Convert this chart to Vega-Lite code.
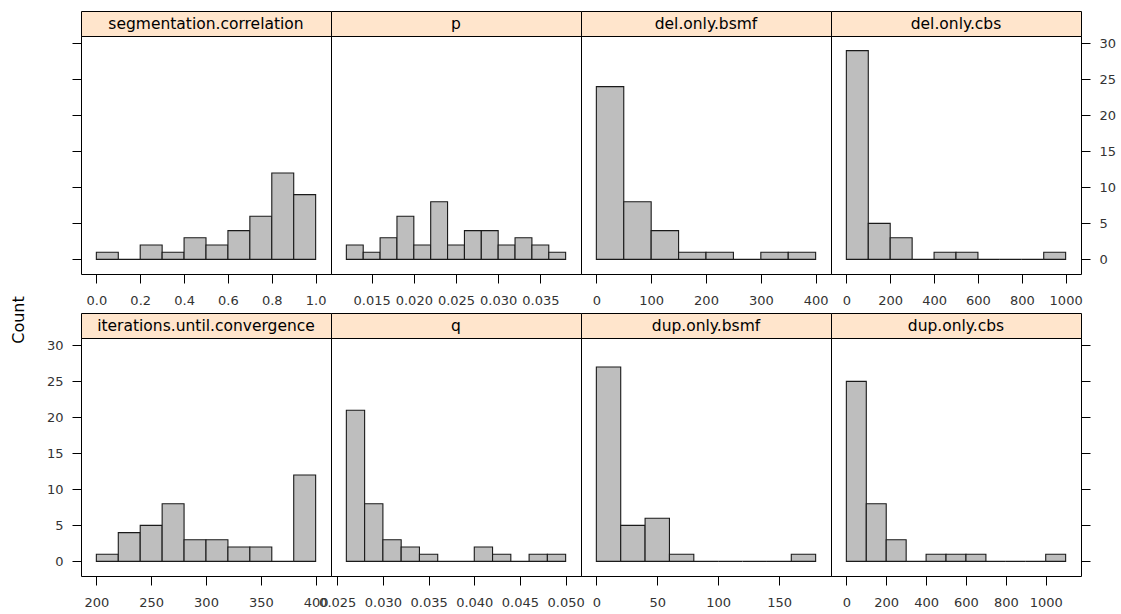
{
  "$schema": "https://vega.github.io/schema/vega-lite/v6.json",
  "padding": {"left": 10, "top": 10, "right": 5, "bottom": 5},
  "background": "white",
  "title": {"text": "Count", "orient": "left", "anchor": "middle", "font": "DejaVu Sans", "fontSize": 16, "fontWeight": "normal", "color": "#000", "offset": 19, "dx": -10},
  "datasets": {
    "panels": [
      {"v": "segmentation.correlation"}, {"v": "p"}, {"v": "del.only.bsmf"}, {"v": "del.only.cbs"},
      {"v": "iterations.until.convergence"}, {"v": "q"}, {"v": "dup.only.bsmf"}, {"v": "dup.only.cbs"}
    ],
    "bins": [
      {"v": "segmentation.correlation", "start": 0.0, "end": 0.1, "count": 1},
      {"v": "segmentation.correlation", "start": 0.1, "end": 0.2, "count": 0},
      {"v": "segmentation.correlation", "start": 0.2, "end": 0.3, "count": 2},
      {"v": "segmentation.correlation", "start": 0.3, "end": 0.4, "count": 1},
      {"v": "segmentation.correlation", "start": 0.4, "end": 0.5, "count": 3},
      {"v": "segmentation.correlation", "start": 0.5, "end": 0.6, "count": 2},
      {"v": "segmentation.correlation", "start": 0.6, "end": 0.7, "count": 4},
      {"v": "segmentation.correlation", "start": 0.7, "end": 0.8, "count": 6},
      {"v": "segmentation.correlation", "start": 0.8, "end": 0.9, "count": 12},
      {"v": "segmentation.correlation", "start": 0.9, "end": 1.0, "count": 9},
      {"v": "p", "start": 0.012, "end": 0.014, "count": 2},
      {"v": "p", "start": 0.014, "end": 0.016, "count": 1},
      {"v": "p", "start": 0.016, "end": 0.018, "count": 3},
      {"v": "p", "start": 0.018, "end": 0.020, "count": 6},
      {"v": "p", "start": 0.020, "end": 0.022, "count": 2},
      {"v": "p", "start": 0.022, "end": 0.024, "count": 8},
      {"v": "p", "start": 0.024, "end": 0.026, "count": 2},
      {"v": "p", "start": 0.026, "end": 0.028, "count": 4},
      {"v": "p", "start": 0.028, "end": 0.030, "count": 4},
      {"v": "p", "start": 0.030, "end": 0.032, "count": 2},
      {"v": "p", "start": 0.032, "end": 0.034, "count": 3},
      {"v": "p", "start": 0.034, "end": 0.036, "count": 2},
      {"v": "p", "start": 0.036, "end": 0.038, "count": 1},
      {"v": "del.only.bsmf", "start": 0, "end": 50, "count": 24},
      {"v": "del.only.bsmf", "start": 50, "end": 100, "count": 8},
      {"v": "del.only.bsmf", "start": 100, "end": 150, "count": 4},
      {"v": "del.only.bsmf", "start": 150, "end": 200, "count": 1},
      {"v": "del.only.bsmf", "start": 200, "end": 250, "count": 1},
      {"v": "del.only.bsmf", "start": 250, "end": 300, "count": 0},
      {"v": "del.only.bsmf", "start": 300, "end": 350, "count": 1},
      {"v": "del.only.bsmf", "start": 350, "end": 400, "count": 1},
      {"v": "del.only.cbs", "start": 0, "end": 100, "count": 29},
      {"v": "del.only.cbs", "start": 100, "end": 200, "count": 5},
      {"v": "del.only.cbs", "start": 200, "end": 300, "count": 3},
      {"v": "del.only.cbs", "start": 300, "end": 400, "count": 0},
      {"v": "del.only.cbs", "start": 400, "end": 500, "count": 1},
      {"v": "del.only.cbs", "start": 500, "end": 600, "count": 1},
      {"v": "del.only.cbs", "start": 600, "end": 700, "count": 0},
      {"v": "del.only.cbs", "start": 700, "end": 800, "count": 0},
      {"v": "del.only.cbs", "start": 800, "end": 900, "count": 0},
      {"v": "del.only.cbs", "start": 900, "end": 1000, "count": 1},
      {"v": "iterations.until.convergence", "start": 200, "end": 220, "count": 1},
      {"v": "iterations.until.convergence", "start": 220, "end": 240, "count": 4},
      {"v": "iterations.until.convergence", "start": 240, "end": 260, "count": 5},
      {"v": "iterations.until.convergence", "start": 260, "end": 280, "count": 8},
      {"v": "iterations.until.convergence", "start": 280, "end": 300, "count": 3},
      {"v": "iterations.until.convergence", "start": 300, "end": 320, "count": 3},
      {"v": "iterations.until.convergence", "start": 320, "end": 340, "count": 2},
      {"v": "iterations.until.convergence", "start": 340, "end": 360, "count": 2},
      {"v": "iterations.until.convergence", "start": 360, "end": 380, "count": 0},
      {"v": "iterations.until.convergence", "start": 380, "end": 400, "count": 12},
      {"v": "q", "start": 0.026, "end": 0.028, "count": 21},
      {"v": "q", "start": 0.028, "end": 0.030, "count": 8},
      {"v": "q", "start": 0.030, "end": 0.032, "count": 3},
      {"v": "q", "start": 0.032, "end": 0.034, "count": 2},
      {"v": "q", "start": 0.034, "end": 0.036, "count": 1},
      {"v": "q", "start": 0.036, "end": 0.038, "count": 0},
      {"v": "q", "start": 0.038, "end": 0.040, "count": 0},
      {"v": "q", "start": 0.040, "end": 0.042, "count": 2},
      {"v": "q", "start": 0.042, "end": 0.044, "count": 1},
      {"v": "q", "start": 0.044, "end": 0.046, "count": 0},
      {"v": "q", "start": 0.046, "end": 0.048, "count": 1},
      {"v": "q", "start": 0.048, "end": 0.050, "count": 1},
      {"v": "dup.only.bsmf", "start": 0, "end": 20, "count": 27},
      {"v": "dup.only.bsmf", "start": 20, "end": 40, "count": 5},
      {"v": "dup.only.bsmf", "start": 40, "end": 60, "count": 6},
      {"v": "dup.only.bsmf", "start": 60, "end": 80, "count": 1},
      {"v": "dup.only.bsmf", "start": 80, "end": 100, "count": 0},
      {"v": "dup.only.bsmf", "start": 100, "end": 120, "count": 0},
      {"v": "dup.only.bsmf", "start": 120, "end": 140, "count": 0},
      {"v": "dup.only.bsmf", "start": 140, "end": 160, "count": 0},
      {"v": "dup.only.bsmf", "start": 160, "end": 180, "count": 1},
      {"v": "dup.only.cbs", "start": 0, "end": 100, "count": 25},
      {"v": "dup.only.cbs", "start": 100, "end": 200, "count": 8},
      {"v": "dup.only.cbs", "start": 200, "end": 300, "count": 3},
      {"v": "dup.only.cbs", "start": 300, "end": 400, "count": 0},
      {"v": "dup.only.cbs", "start": 400, "end": 500, "count": 1},
      {"v": "dup.only.cbs", "start": 500, "end": 600, "count": 1},
      {"v": "dup.only.cbs", "start": 600, "end": 700, "count": 1},
      {"v": "dup.only.cbs", "start": 700, "end": 800, "count": 0},
      {"v": "dup.only.cbs", "start": 800, "end": 900, "count": 0},
      {"v": "dup.only.cbs", "start": 900, "end": 1000, "count": 0},
      {"v": "dup.only.cbs", "start": 1000, "end": 1100, "count": 1}
    ]
  },
  "spacing": 4,
  "resolve": {"scale": {"x": "independent", "y": "independent"}},
  "vconcat": [
    {
      "columns": 4, "spacing": 0, "bounds": "flush",
      "resolve": {"scale": {"x": "independent", "y": "independent"}},
      "concat": [
        {"width": 250, "height": 25, "data": {"name": "panels"}, "transform": [{"filter": "datum.v == 'segmentation.correlation'"}],
         "mark": {"type": "text", "font": "DejaVu Sans", "fontSize": 15.5, "fill": "#000", "baseline": "middle"},
         "encoding": {"text": {"field": "v"}}, "view": {"fill": "#ffe5cc", "stroke": "#000"}},
        {"width": 250, "height": 25, "data": {"name": "panels"}, "transform": [{"filter": "datum.v == 'p'"}],
         "mark": {"type": "text", "font": "DejaVu Sans", "fontSize": 15.5, "fill": "#000", "baseline": "middle"},
         "encoding": {"text": {"field": "v"}}, "view": {"fill": "#ffe5cc", "stroke": "#000"}},
        {"width": 250, "height": 25, "data": {"name": "panels"}, "transform": [{"filter": "datum.v == 'del.only.bsmf'"}],
         "mark": {"type": "text", "font": "DejaVu Sans", "fontSize": 15.5, "fill": "#000", "baseline": "middle"},
         "encoding": {"text": {"field": "v"}}, "view": {"fill": "#ffe5cc", "stroke": "#000"}},
        {"width": 250, "height": 25, "data": {"name": "panels"}, "transform": [{"filter": "datum.v == 'del.only.cbs'"}],
         "mark": {"type": "text", "font": "DejaVu Sans", "fontSize": 15.5, "fill": "#000", "baseline": "middle"},
         "encoding": {"text": {"field": "v"}}, "view": {"fill": "#ffe5cc", "stroke": "#000"}},
        {"width": 250, "height": 238, "data": {"name": "bins"}, "transform": [{"filter": "datum.v == 'segmentation.correlation'"}],
         "mark": {"type": "rect", "fill": "#bebebe", "stroke": "#1a1a1a", "strokeWidth": 1.1},
         "encoding": {
           "x": {"field": "start", "type": "quantitative", "scale": {"domain": [-0.07, 1.07], "nice": false, "zero": false}, "axis": {"values": [0, 0.2, 0.4, 0.6, 0.8, 1.0], "format": ".1f", "title": null}},
           "x2": {"field": "end"},
           "y": {"field": "count", "type": "quantitative", "scale": {"domain": [-2.03, 31.03], "nice": false, "zero": false}, "axis": {"orient": "left", "values": [0, 5, 10, 15, 20, 25, 30], "labels": false, "title": null}},
           "y2": {"datum": 0}
         }, "view": {"stroke": "#000"}},
        {"width": 250, "height": 238, "data": {"name": "bins"}, "transform": [{"filter": "datum.v == 'p'"}],
         "mark": {"type": "rect", "fill": "#bebebe", "stroke": "#1a1a1a", "strokeWidth": 1.1},
         "encoding": {
           "x": {"field": "start", "type": "quantitative", "scale": {"domain": [0.01018, 0.03982], "nice": false, "zero": false}, "axis": {"values": [0.015, 0.020, 0.025, 0.030, 0.035], "format": ".3f", "title": null}},
           "x2": {"field": "end"},
           "y": {"field": "count", "type": "quantitative", "scale": {"domain": [-2.03, 31.03], "nice": false, "zero": false}, "axis": null},
           "y2": {"datum": 0}
         }, "view": {"stroke": "#000"}},
        {"width": 250, "height": 238, "data": {"name": "bins"}, "transform": [{"filter": "datum.v == 'del.only.bsmf'"}],
         "mark": {"type": "rect", "fill": "#bebebe", "stroke": "#1a1a1a", "strokeWidth": 1.1},
         "encoding": {
           "x": {"field": "start", "type": "quantitative", "scale": {"domain": [-28, 428], "nice": false, "zero": false}, "axis": {"values": [0, 100, 200, 300, 400], "format": "d", "title": null}},
           "x2": {"field": "end"},
           "y": {"field": "count", "type": "quantitative", "scale": {"domain": [-2.03, 31.03], "nice": false, "zero": false}, "axis": null},
           "y2": {"datum": 0}
         }, "view": {"stroke": "#000"}},
        {"width": 250, "height": 238, "data": {"name": "bins"}, "transform": [{"filter": "datum.v == 'del.only.cbs'"}],
         "mark": {"type": "rect", "fill": "#bebebe", "stroke": "#1a1a1a", "strokeWidth": 1.1},
         "encoding": {
           "x": {"field": "start", "type": "quantitative", "scale": {"domain": [-70, 1070], "nice": false, "zero": false}, "axis": {"values": [0, 200, 400, 600, 800, 1000], "format": "d", "title": null}},
           "x2": {"field": "end"},
           "y": {"field": "count", "type": "quantitative", "scale": {"domain": [-2.03, 31.03], "nice": false, "zero": false}, "axis": {"orient": "right", "values": [0, 5, 10, 15, 20, 25, 30], "title": null}},
           "y2": {"datum": 0}
         }, "view": {"stroke": "#000"}}
      ]
    },
    {
      "columns": 4, "spacing": 0, "bounds": "flush",
      "resolve": {"scale": {"x": "independent", "y": "independent"}},
      "concat": [
        {"width": 250, "height": 25, "data": {"name": "panels"}, "transform": [{"filter": "datum.v == 'iterations.until.convergence'"}],
         "mark": {"type": "text", "font": "DejaVu Sans", "fontSize": 15.5, "fill": "#000", "baseline": "middle"},
         "encoding": {"text": {"field": "v"}}, "view": {"fill": "#ffe5cc", "stroke": "#000"}},
        {"width": 250, "height": 25, "data": {"name": "panels"}, "transform": [{"filter": "datum.v == 'q'"}],
         "mark": {"type": "text", "font": "DejaVu Sans", "fontSize": 15.5, "fill": "#000", "baseline": "middle"},
         "encoding": {"text": {"field": "v"}}, "view": {"fill": "#ffe5cc", "stroke": "#000"}},
        {"width": 250, "height": 25, "data": {"name": "panels"}, "transform": [{"filter": "datum.v == 'dup.only.bsmf'"}],
         "mark": {"type": "text", "font": "DejaVu Sans", "fontSize": 15.5, "fill": "#000", "baseline": "middle"},
         "encoding": {"text": {"field": "v"}}, "view": {"fill": "#ffe5cc", "stroke": "#000"}},
        {"width": 250, "height": 25, "data": {"name": "panels"}, "transform": [{"filter": "datum.v == 'dup.only.cbs'"}],
         "mark": {"type": "text", "font": "DejaVu Sans", "fontSize": 15.5, "fill": "#000", "baseline": "middle"},
         "encoding": {"text": {"field": "v"}}, "view": {"fill": "#ffe5cc", "stroke": "#000"}},
        {"width": 250, "height": 238, "data": {"name": "bins"}, "transform": [{"filter": "datum.v == 'iterations.until.convergence'"}],
         "mark": {"type": "rect", "fill": "#bebebe", "stroke": "#1a1a1a", "strokeWidth": 1.1},
         "encoding": {
           "x": {"field": "start", "type": "quantitative", "scale": {"domain": [186, 414], "nice": false, "zero": false}, "axis": {"values": [200, 250, 300, 350, 400], "format": "d", "title": null}},
           "x2": {"field": "end"},
           "y": {"field": "count", "type": "quantitative", "scale": {"domain": [-2.03, 31.03], "nice": false, "zero": false}, "axis": {"orient": "left", "values": [0, 5, 10, 15, 20, 25, 30], "title": null}},
           "y2": {"datum": 0}
         }, "view": {"stroke": "#000"}},
        {"width": 250, "height": 238, "data": {"name": "bins"}, "transform": [{"filter": "datum.v == 'q'"}],
         "mark": {"type": "rect", "fill": "#bebebe", "stroke": "#1a1a1a", "strokeWidth": 1.1},
         "encoding": {
           "x": {"field": "start", "type": "quantitative", "scale": {"domain": [0.02432, 0.05168], "nice": false, "zero": false}, "axis": {"values": [0.025, 0.030, 0.035, 0.040, 0.045, 0.050], "format": ".3f", "title": null}},
           "x2": {"field": "end"},
           "y": {"field": "count", "type": "quantitative", "scale": {"domain": [-2.03, 31.03], "nice": false, "zero": false}, "axis": null},
           "y2": {"datum": 0}
         }, "view": {"stroke": "#000"}},
        {"width": 250, "height": 238, "data": {"name": "bins"}, "transform": [{"filter": "datum.v == 'dup.only.bsmf'"}],
         "mark": {"type": "rect", "fill": "#bebebe", "stroke": "#1a1a1a", "strokeWidth": 1.1},
         "encoding": {
           "x": {"field": "start", "type": "quantitative", "scale": {"domain": [-12.6, 192.6], "nice": false, "zero": false}, "axis": {"values": [0, 50, 100, 150], "format": "d", "title": null}},
           "x2": {"field": "end"},
           "y": {"field": "count", "type": "quantitative", "scale": {"domain": [-2.03, 31.03], "nice": false, "zero": false}, "axis": null},
           "y2": {"datum": 0}
         }, "view": {"stroke": "#000"}},
        {"width": 250, "height": 238, "data": {"name": "bins"}, "transform": [{"filter": "datum.v == 'dup.only.cbs'"}],
         "mark": {"type": "rect", "fill": "#bebebe", "stroke": "#1a1a1a", "strokeWidth": 1.1},
         "encoding": {
           "x": {"field": "start", "type": "quantitative", "scale": {"domain": [-77, 1177], "nice": false, "zero": false}, "axis": {"values": [0, 200, 400, 600, 800, 1000], "format": "d", "title": null}},
           "x2": {"field": "end"},
           "y": {"field": "count", "type": "quantitative", "scale": {"domain": [-2.03, 31.03], "nice": false, "zero": false}, "axis": {"orient": "right", "values": [0, 5, 10, 15, 20, 25, 30], "labels": false, "title": null}},
           "y2": {"datum": 0}
         }, "view": {"stroke": "#000"}}
      ]
    }
  ],
  "config": {
    "view": {"stroke": "#000", "strokeWidth": 1},
    "axis": {"domain": false, "grid": false, "tickColor": "#000", "tickSize": 9, "tickWidth": 1, "labelFont": "DejaVu Sans", "labelFontSize": 13, "labelColor": "#333", "labelPadding": 9, "labelFlush": false, "labelOverlap": false, "labelBound": false},
    "axisX": {"labelPadding": 11}
  }
}
